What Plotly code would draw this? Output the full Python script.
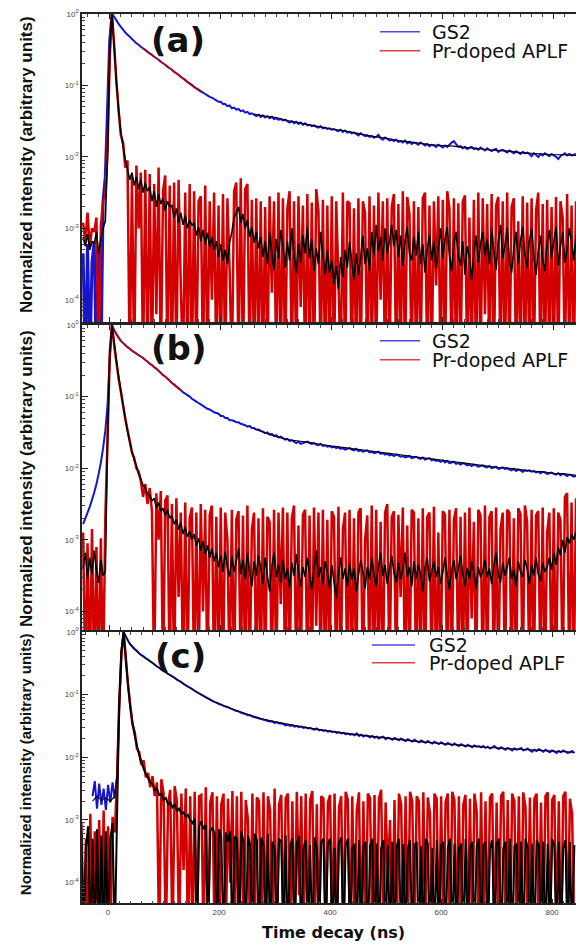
import plotly.graph_objects as go

W, H = 576, 946

# sampling grid of the decay traces (ns)
T = list(range(-48, 841, 4))

# intensities are stored as 100 * log10(normalized intensity)
# -500 = empty channel (falls below the axis), None = no data

# ---------------- panel (a) ----------------
GS2_A = [
    -335, -500, -322, -500, -348, -318, -500, -330, -500, -262,
    -228, -135, -38, 0, -4, -9, -14, -18, -22, -26,
    -29, -32, -35, -38, -41, -43, -46, -48, -50, -53,
    -55, -57, -60, -62, -64, -67, -69, -71, -74, -76,
    -78, -81, -83, -85, -88, -90, -92, -95, -97, -99,
    -102, -104, -106, -108, -110, -112, -114, -116, -117, -119,
    -121, -123, -123, -126, -126, -129, -128, -132, -131, -134,
    -133, -136, -135, -138, -137, -140, -139, -141, -143, -141,
    -144, -142, -145, -143, -146, -144, -147, -146, -148, -147,
    -149, -148, -150, -152, -150, -153, -151, -154, -152, -155,
    -153, -156, -155, -157, -156, -158, -159, -157, -160, -159,
    -161, -160, -162, -161, -163, -164, -162, -165, -163, -166,
    -165, -167, -166, -168, -170, -167, -169, -171, -170, -172,
    -171, -173, -172, -169, -174, -176, -173, -175, -177, -176,
    -178, -176, -179, -178, -180, -177, -181, -179, -182, -180,
    -181, -183, -180, -182, -184, -182, -185, -183, -184, -186,
    -183, -185, -187, -184, -186, -183, -180, -178, -182, -186,
    -185, -188, -186, -189, -187, -186, -189, -188, -190, -187,
    -189, -191, -188, -190, -192, -190, -189, -193, -191, -190,
    -192, -194, -191, -193, -195, -192, -194, -196, -193, -195,
    -194, -196, -199, -195, -197, -200, -196, -198, -195, -197,
    -199, -196, -198, -200, -203, -199, -197, -195, -198, -196,
    -198, -197, -196,
]
APLF_A = [
    -292, -318, -278, -326, -300, -305, -285, -500, -296, -262,
    -255, -190, -60, 0, -45, -95, -135, -170, -180, -215,
    -205, -500, -228, -500, -212, -300, -222, -500, -218, -500,
    -224, -500, -238, -420, -215, -500, -248, -226, -500, -240,
    -500, -236, -500, -232, -380, -500, -250, -500, -238, -500,
    -248, -500, -262, -255, -500, -240, -500, -262, -400, -250,
    -500, -268, -500, -252, -500, -258, -360, -500, -248, -236,
    -500, -230, -500, -245, -238, -500, -260, -500, -258, -500,
    -262, -500, -270, -500, -255, -390, -262, -500, -250, -500,
    -258, -500, -272, -248, -500, -262, -500, -255, -410, -268,
    -500, -252, -500, -264, -500, -245, -275, -500, -260, -500,
    -268, -500, -255, -500, -262, -370, -500, -250, -500, -262,
    -265, -500, -272, -500, -258, -500, -262, -278, -500, -255,
    -500, -268, -500, -250, -400, -262, -500, -258, -500, -270,
    -252, -500, -266, -500, -248, -500, -256, -280, -500, -262,
    -500, -270, -500, -258, -250, -500, -268, -500, -262, -380,
    -255, -500, -260, -500, -248, -272, -500, -258, -500, -265,
    -500, -262, -254, -500, -285, -500, -260, -500, -250, -500,
    -258, -420, -266, -500, -252, -500, -268, -256, -500, -262,
    -500, -250, -500, -270, -258, -500, -290, -500, -255, -500,
    -264, -500, -258, -500, -275, -250, -500, -266, -500, -260,
    -500, -270, -500, -256, -500, -262, -285, -500, -252, -500,
    -268, -500, -262,
]
APLF_SMOOTH_A = [
    -312, -325, -308, -330, -318, -322, -305, -335, -315, -300,
    -290, -200, -50, 0, -45, -95, -135, -165, -185, -205,
    -218, -232, -222, -240, -228, -245, -232, -250, -236, -248,
    -242, -262, -248, -270, -252, -266, -258, -275, -262, -270,
    -268, -285, -272, -292, -278, -295, -282, -300, -288, -296,
    -292, -310, -298, -318, -302, -322, -306, -326, -312, -330,
    -318, -340, -322, -345, -330, -350, -320, -305, -285, -278,
    -270, -292, -280, -300, -288, -312, -298, -320, -305, -328,
    -312, -340, -318, -350, -305, -335, -358, -315, -342, -302,
    -325, -355, -318, -345, -300, -338, -362, -322, -348, -310,
    -335, -298, -342, -315, -360, -328, -350, -305, -338, -365,
    -330, -362, -345, -378, -352, -385, -340, -368, -330, -355,
    -318, -348, -372, -335, -365, -342, -310, -350, -328, -360,
    -305, -338, -295, -332, -312, -345, -300, -335, -318, -295,
    -325, -302, -340, -310, -352, -318, -298, -335, -345, -312,
    -338, -305, -350, -322, -362, -330, -308, -345, -318, -355,
    -328, -300, -342, -315, -298, -338, -360, -322, -305, -340,
    -352, -318, -365, -325, -340, -372, -335, -310, -348, -322,
    -305, -338, -315, -350, -300, -332, -358, -318, -295, -342,
    -325, -300, -345, -362, -328, -305, -350, -318, -298, -338,
    -355, -318, -300, -340, -365, -332, -310, -345, -360, -320,
    -302, -342, -318, -298, -352, -325, -305, -348, -330, -300,
    -318, -345, -310,
]
SLOW_T_A = list(range(260, 841, 20))
GS2_SMOOTH_A = [
    -140, -143, -145, -149, -152, -155, -158, -161, -163, -166,
    -169, -172, -174, -177, -179, -181, -183, -184, -185, -187,
    -188, -190, -191, -192, -194, -195, -196, -197, -197, -198,
]
FIT_T_A = [56, 70, 84, 98, 112, 126, 140, 154, 166]
FIT_A = [-46, -55, -62, -70, -78, -87, -96, -104, -110]

# ---------------- panel (b) ----------------
GS2_B = [
    -278, -270, -262, -254, -244, -234, -222, -208, -192, -172,
    -148, -112, -50, 0, -7, -13, -18, -22, -25, -28,
    -31, -33, -36, -38, -40, -42, -44, -46, -49, -51,
    -54, -56, -59, -61, -64, -67, -70, -72, -75, -78,
    -81, -83, -86, -88, -91, -94, -96, -98, -100, -103,
    -105, -107, -109, -111, -113, -115, -117, -118, -120, -122,
    -123, -124, -127, -127, -130, -130, -133, -133, -134, -136,
    -136, -138, -139, -140, -142, -141, -144, -144, -146, -146,
    -148, -149, -151, -150, -153, -152, -155, -154, -157, -156,
    -158, -160, -159, -162, -161, -163, -165, -163, -166, -165,
    -164, -163, -165, -166, -165, -167, -168, -166, -169, -168,
    -170, -169, -171, -170, -172, -171, -173, -172, -174, -173,
    -172, -174, -175, -173, -176, -175, -177, -176, -175, -178,
    -177, -179, -178, -177, -180, -179, -181, -180, -182, -181,
    -183, -181, -182, -184, -183, -185, -184, -183, -186, -185,
    -184, -186, -187, -185, -188, -187, -186, -189, -188, -190,
    -189, -191, -189, -192, -190, -193, -192, -191, -194, -193,
    -195, -193, -194, -196, -195, -197, -195, -196, -198, -197,
    -196, -198, -199, -197, -200, -199, -198, -201, -200, -199,
    -201, -200, -202, -203, -201, -204, -202, -203, -205, -203,
    -204, -203, -205, -204, -206, -205, -207, -205, -206, -208,
    -207, -206, -208, -209, -207, -210, -208, -209, -211, -209,
    -210, -212, -211,
]
APLF_B = [
    -290, -500, -305, -500, -285, -500, -310, -500, -298, -500,
    -270, -160, -40, 0, -28, -52, -75, -93, -112, -131,
    -147, -162, -178, -186, -200, -205, -218, -240, -222, -250,
    -228, -260, -500, -235, -300, -232, -500, -245, -238, -500,
    -250, -500, -242, -380, -262, -500, -248, -500, -270, -255,
    -500, -262, -500, -250, -400, -258, -500, -266, -252, -500,
    -268, -500, -255, -500, -262, -300, -500, -258, -500, -272,
    -260, -500, -266, -500, -252, -500, -285, -262, -500, -270,
    -500, -256, -500, -268, -275, -500, -258, -500, -262, -390,
    -255, -500, -262, -500, -270, -252, -500, -280, -500, -265,
    -258, -500, -266, -500, -255, -420, -262, -500, -258, -500,
    -272, -500, -260, -268, -500, -254, -500, -285, -262, -500,
    -258, -500, -270, -500, -262, -256, -500, -300, -266, -500,
    -252, -500, -258, -500, -275, -500, -262, -250, -500, -268,
    -260, -500, -265, -380, -255, -500, -280, -500, -258, -262,
    -500, -270, -500, -256, -500, -268, -262, -500, -254, -500,
    -290, -500, -260, -265, -500, -258, -500, -272, -256, -500,
    -268, -500, -262, -500, -255, -410, -275, -500, -258, -266,
    -500, -252, -500, -268, -260, -500, -255, -500, -285, -262,
    -500, -258, -262, -500, -270, -500, -256, -264, -500, -252,
    -275, -500, -258, -500, -266, -260, -500, -255, -500, -290,
    -262, -500, -256, -500, -262, -272, -500, -240, -235, -500,
    -248, -500, -242,
]
APLF_SMOOTH_B = [
    -340, -318, -355, -325, -348, -315, -342, -360, -328, -350,
    -345, -160, -40, 0, -25, -50, -72, -92, -112, -130,
    -148, -163, -177, -188, -197, -208, -215, -224, -228, -236,
    -238, -246, -242, -255, -248, -260, -256, -266, -258, -270,
    -266, -278, -272, -286, -276, -292, -282, -296, -288, -300,
    -292, -308, -298, -315, -302, -320, -308, -325, -312, -330,
    -318, -338, -322, -345, -316, -340, -352, -322, -345, -330,
    -312, -348, -328, -355, -318, -345, -365, -330, -350, -322,
    -340, -362, -325, -350, -372, -338, -318, -352, -335, -360,
    -328, -355, -340, -368, -332, -350, -320, -345, -365, -338,
    -352, -325, -348, -370, -340, -315, -352, -338, -362, -330,
    -345, -368, -335, -358, -382, -348, -325, -355, -340, -365,
    -332, -356, -340, -372, -350, -328, -345, -368, -338, -355,
    -325, -348, -365, -338, -318, -350, -335, -362, -340, -322,
    -345, -360, -332, -355, -340, -318, -352, -338, -365, -330,
    -355, -335, -348, -372, -340, -325, -358, -345, -330, -352,
    -338, -362, -345, -325, -350, -370, -342, -328, -355, -340,
    -322, -348, -365, -340, -355, -330, -345, -368, -338, -352,
    -345, -328, -352, -340, -362, -335, -318, -348, -360, -332,
    -350, -338, -325, -355, -342, -365, -330, -345, -352, -328,
    -340, -362, -335, -350, -325, -348, -358, -332, -345, -338,
    -325, -342, -318, -335, -310, -322, -300, -318, -296, -305,
    -292, -300, -288,
]
SLOW_T_B = list(range(260, 841, 20))
GS2_SMOOTH_B = [
    -145, -151, -156, -160, -162, -164, -167, -169, -171, -173,
    -175, -177, -179, -181, -183, -185, -187, -189, -191, -193,
    -195, -197, -199, -200, -202, -204, -205, -207, -208, -210,
]
FIT_T_B = [8, 20, 32, 44, 56, 68, 80, 92, 104, 116, 128]
FIT_B = [-7, -22, -31, -38, -44, -51, -59, -67, -75, -84, -92]

# ---------------- panel (c) ----------------
GS2_C = [
    None, None, None, None, None, -262, -238, -282, -242, -276,
    -250, -284, -244, -272, -240, -266, -232, -120, -35, 0,
    -7, -14, -20, -23, -27, -30, -34, -37, -39, -42,
    -44, -47, -49, -52, -55, -57, -60, -62, -64, -67,
    -69, -71, -73, -76, -78, -80, -83, -85, -87, -89,
    -91, -94, -96, -98, -100, -102, -104, -106, -108, -110,
    -112, -113, -115, -116, -118, -119, -120, -122, -123, -125,
    -126, -127, -129, -130, -131, -133, -133, -135, -136, -137,
    -138, -139, -140, -141, -142, -143, -143, -145, -144, -146,
    -146, -147, -149, -148, -150, -149, -151, -150, -152, -151,
    -153, -152, -154, -153, -155, -156, -154, -157, -156, -158,
    -157, -159, -158, -160, -159, -161, -160, -162, -161, -163,
    -162, -164, -163, -165, -162, -166, -164, -167, -165, -166,
    -168, -166, -169, -167, -170, -168, -167, -171, -169, -170,
    -172, -169, -171, -173, -170, -172, -174, -171, -173, -175,
    -172, -174, -176, -173, -175, -177, -174, -176, -178, -175,
    -177, -179, -176, -178, -180, -177, -179, -181, -178, -180,
    -182, -179, -181, -183, -180, -182, -184, -181, -183, -182,
    -184, -182, -185, -183, -186, -184, -182, -185, -187, -184,
    -186, -188, -185, -187, -189, -186, -188, -187, -185, -189,
    -188, -186, -189, -191, -188, -190, -187, -189, -191, -188,
    -190, -192, -189, -191, -193, -190, -192, -189, -191, -193,
    -192, -190, -193,
]
APLF_C = [
    -305, -500, -330, -500, -290, -500, -318, -500, -300, -500,
    -285, -500, -310, -500, -295, -320, -240, -115, -35, 0,
    -42, -85, -118, -148, -160, -186, -192, -212, -205, -232,
    -225, -248, -230, -262, -240, -500, -235, -258, -500, -275,
    -252, -500, -246, -270, -500, -258, -380, -250, -500, -262,
    -500, -255, -500, -262, -260, -500, -248, -500, -272, -256,
    -500, -262, -500, -275, -258, -500, -266, -400, -254, -500,
    -262, -500, -255, -500, -268, -300, -500, -258, -500, -264,
    -270, -500, -256, -500, -262, -285, -500, -250, -500, -275,
    -260, -500, -265, -258, -500, -270, -500, -255, -420, -262,
    -500, -258, -500, -268, -254, -500, -275, -500, -262, -266,
    -500, -272, -260, -500, -258, -500, -280, -262, -500, -255,
    -268, -500, -262, -500, -285, -256, -500, -270, -500, -258,
    -265, -500, -260, -500, -266, -252, -500, -272, -390, -300,
    -500, -268, -500, -258, -275, -500, -262, -500, -255, -270,
    -500, -262, -270, -500, -256, -500, -264, -290, -500, -258,
    -266, -500, -262, -500, -272, -258, -500, -255, -268, -500,
    -262, -500, -275, -260, -500, -266, -500, -258, -285, -500,
    -256, -500, -270, -500, -264, -258, -500, -272, -500, -262,
    -255, -500, -268, -500, -258, -270, -500, -262, -500, -256,
    -280, -500, -264, -500, -266, -258, -500, -272, -500, -262,
    -256, -500, -268, -260, -500, -270, -500, -262, -255, -500,
    -266, -290, -500,
]
APLF_SMOOTH_C = [
    -320, -500, -345, -310, -500, -330, -500, -315, -500, -325,
    -500, -318, -500, -330, -305, -500, -300, -120, -30, 0,
    -45, -85, -120, -145, -165, -182, -196, -208, -218, -226,
    -233, -240, -243, -252, -250, -260, -258, -268, -265, -275,
    -272, -280, -276, -285, -282, -290, -288, -295, -292, -300,
    -305, -298, -500, -310, -302, -315, -308, -500, -318, -312,
    -322, -500, -315, -328, -500, -320, -335, -318, -500, -326,
    -330, -500, -318, -335, -500, -325, -340, -500, -322, -332,
    -500, -328, -340, -500, -322, -500, -335, -345, -500, -330,
    -335, -500, -325, -500, -342, -330, -500, -338, -326, -500,
    -345, -332, -500, -340, -500, -328, -345, -500, -335, -330,
    -500, -338, -330, -500, -345, -500, -335, -328, -500, -342,
    -330, -500, -345, -338, -500, -332, -500, -340, -335, -500,
    -342, -330, -500, -338, -500, -345, -332, -500, -340, -500,
    -335, -500, -342, -330, -500, -338, -500, -345, -332, -500,
    -340, -335, -500, -342, -500, -330, -338, -500, -345, -500,
    -332, -500, -340, -335, -500, -345, -330, -500, -338, -500,
    -345, -338, -500, -330, -500, -345, -335, -500, -342, -330,
    -500, -340, -335, -500, -345, -332, -500, -338, -330, -500,
    -345, -335, -500, -330, -500, -342, -338, -500, -335, -500,
    -330, -345, -500, -338, -500, -332, -340, -500, -335, -500,
    -338, -500, -330, -342, -500, -335, -500, -345, -332, -500,
    -335, -500, -340,
]
SLOW_T_C = [-28, -20, -12, -4, 4, 12, 16, 20, 24, 28, 36, 44, 56, 70, 85,
            100, 115, 130, 145, 160, 175, 190, 210, 230, 250, 275, 300, 330,
            360, 400, 440, 480, 520, 560, 600, 640, 680, 720, 760, 800, 840]
GS2_SMOOTH_C = [-270, -262, -268, -265, -270, -262, -228, -112, -33, 0,
                -14, -25, -35, -43, -53, -62, -71, -79, -88, -96,
                -104, -111, -118, -125, -131, -138, -143, -148, -153, -158,
                -163, -167, -171, -175, -178, -181, -184, -186, -188, -190,
                -192]

Y_TICKS = [1, 0.1, 0.01, 0.001, 0.0001]
Y_TICKTEXT = ["10<sup>0</sup>", "10<sup>-1</sup>", "10<sup>-2</sup>",
              "10<sup>-3</sup>", "10<sup>-4</sup>"]
X_TICKS = [0, 200, 400, 600, 800]

BLUE = "#1414d2"
RED = "#d20000"
BLACK = "#000000"

PEAK_INDEX = 13  # first channel after the excitation rise (t = 4 ns)


def to_y(vals):
    return [None if v is None else 10 ** (v / 100) for v in vals]


def px_x(px):
    return px / W


def px_y(py):
    return 1 - py / H


panels = [
    dict(label="(a)", xr=[-50, 840], yr=[-4.31, 0], top=8, bottom=318,
         gs2=GS2_A, aplf=APLF_A, aplf_s=APLF_SMOOTH_A,
         pre_w=3.0, black_w=1.6,
         slow_t=SLOW_T_A, slow=GS2_SMOOTH_A, fit_t=FIT_T_A, fit=FIT_A,
         label_xy=(178, 34), leg=(380, 420, 430, 26, 45),
         title_xy=(27, 160), title_size=17),
    dict(label="(b)", xr=[-50, 840], yr=[-4.26, 0], top=321, bottom=628,
         gs2=GS2_B, aplf=APLF_B, aplf_s=APLF_SMOOTH_B,
         pre_w=2.0, black_w=1.6,
         slow_t=SLOW_T_B, slow=GS2_SMOOTH_B, fit_t=FIT_T_B, fit=FIT_B,
         label_xy=(178, 344), leg=(380, 420, 430, 337, 356),
         title_xy=(27, 476), title_size=17),
    dict(label="(c)", xr=[-47, 843], yr=[-4.33, 0], top=630, bottom=903,
         gs2=GS2_C, aplf=APLF_C, aplf_s=APLF_SMOOTH_C,
         pre_w=2.0, black_w=2.0,
         slow_t=SLOW_T_C, slow=GS2_SMOOTH_C, fit_t=None, fit=None,
         label_xy=(180, 654), leg=(372, 415, 427, 643, 661),
         title_xy=(25, 763), title_size=15),
]

fig = go.Figure()
layout = {}
annotations = []
shapes = []

for i, p in enumerate(panels):
    n = "" if i == 0 else str(i + 1)
    xa, ya = "x" + n, "y" + n

    def add(x, vals, color, width):
        fig.add_trace(go.Scatter(
            x=x[:len(vals)], y=to_y(vals), mode="lines", xaxis=xa, yaxis=ya,
            line=dict(color=color, width=width, simplify=False),
            showlegend=False, hoverinfo="skip"))

    # GS2: background/rise part and decay part (same series, two widths)
    add(T[:PEAK_INDEX + 1], p["gs2"][:PEAK_INDEX + 1], BLUE, p["pre_w"])
    add(T[PEAK_INDEX:], p["gs2"][PEAK_INDEX:], BLUE, 2.0)
    add(T, p["aplf"], RED, 2.5)
    add(T, p["aplf_s"], BLACK, p["black_w"])
    if p["fit"]:
        add(p["fit_t"], p["fit"], RED, 1.4)
    add(p["slow_t"], p["slow"], BLACK, 1.1)

    layout["xaxis" + n] = dict(
        domain=[px_x(82), 1], range=p["xr"], anchor=ya,
        showline=True, linecolor="#222", linewidth=1.5, mirror="ticks",
        ticks="inside", ticklen=5, tickcolor="#222", tickvals=X_TICKS,
        minor=dict(ticks="inside", ticklen=3, dtick=20, tick0=0,
                   tickcolor="#444"),
        showgrid=False, zeroline=False, showticklabels=(i == 2),
        tickfont=dict(family="Liberation Sans", size=8, color="#444"))
    layout["yaxis" + n] = dict(
        domain=[px_y(p["bottom"]), px_y(p["top"])], type="log",
        range=p["yr"], anchor=xa,
        showline=True, linecolor="#222", linewidth=1.5,
        ticks="inside", ticklen=6, tickcolor="#222",
        tickvals=Y_TICKS, ticktext=Y_TICKTEXT,
        minor=dict(ticks="inside", ticklen=3, tickcolor="#444",
                   tickvals=[m * 10.0 ** e for e in range(-5, 0)
                             for m in range(2, 10)]),
        showgrid=False, zeroline=False,
        tickfont=dict(family="Liberation Sans", size=8, color="#444"))

    lx, ly = p["label_xy"]
    annotations.append(dict(
        text=p["label"], x=px_x(lx), y=px_y(ly), xref="paper", yref="paper",
        showarrow=False, xanchor="center", yanchor="middle",
        font=dict(family="DejaVu Sans", size=34, color="#111", weight="bold")))

    tx, ty = p["title_xy"]
    annotations.append(dict(
        text="Normalized intensity (arbitrary units)", textangle=-90,
        x=px_x(tx), y=px_y(ty), xref="paper", yref="paper",
        showarrow=False, xanchor="center", yanchor="middle",
        font=dict(family="Liberation Sans", size=p["title_size"],
                  color="#111", weight="bold")))

    x0, x1, tx0, y_gs2, y_aplf = p["leg"]
    for yy, col, name in [(y_gs2, "#4a4ae8", "GS2"),
                          (y_aplf, "#e04040", "Pr-doped APLF")]:
        shapes.append(dict(type="line", xref="paper", yref="paper",
                           x0=px_x(x0), x1=px_x(x1), y0=px_y(yy), y1=px_y(yy),
                           line=dict(color=col, width=1.5)))
        annotations.append(dict(
            text=name, x=px_x(tx0), y=px_y(yy), xref="paper", yref="paper",
            showarrow=False, xanchor="left", yanchor="middle",
            font=dict(family="DejaVu Sans", size=19, color="#111")))

annotations.append(dict(
    text="Time decay (ns)", x=px_x(333), y=px_y(932), xref="paper",
    yref="paper", showarrow=False, xanchor="center", yanchor="middle",
    font=dict(family="DejaVu Sans", size=16, color="#111", weight="bold")))

fig.update_layout(
    width=W, height=H,
    margin=dict(l=0, r=0, t=0, b=0),
    paper_bgcolor="white", plot_bgcolor="white",
    annotations=annotations, shapes=shapes,
    **layout)

# the page is exactly the figure size: drop the default body margin
fig.write_html(
    "out.html",
    config={"displayModeBar": False},
    post_script="document.body.style.margin='0';"
                "document.body.style.overflow='hidden';")
